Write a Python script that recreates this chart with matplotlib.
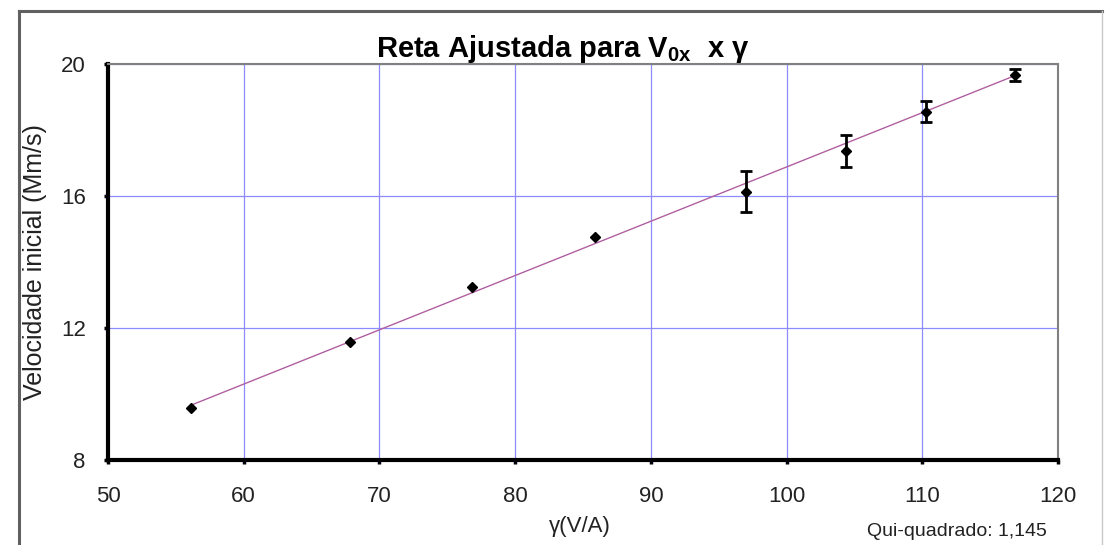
import matplotlib
matplotlib.use("Agg")
import matplotlib.pyplot as plt
from matplotlib.lines import Line2D

plt.rcParams["font.family"] = ["Liberation Sans", "DejaVu Sans"]

# measured points
gamma = [56.1, 67.8, 76.8, 85.9, 97.0, 104.4, 110.3, 116.8]
v0x = [9.57, 11.57, 13.25, 14.75, 16.13, 17.37, 18.55, 19.67]
v0x_err = [0, 0, 0, 0, 0.62, 0.48, 0.32, 0.18]

# fitted line
fit_slope = 0.1645
fit_intercept = 0.43
fit_range = [56.1, 116.8]

x_ticks = [50, 60, 70, 80, 90, 100, 110, 120]
y_ticks = [8, 12, 16, 20]

fig = plt.figure(figsize=(11.06, 5.45), dpi=100)
ax = fig.add_axes([108 / 1106, 1 - 460 / 545, 950 / 1106, 396 / 545])

# outer chart frame
fig.add_artist(Line2D([19 / 1106, 19 / 1106], [-0.02, 1 - 11 / 545], transform=fig.transFigure,
                      color="#606060", lw=2.2))
fig.add_artist(Line2D([19 / 1106, 1102 / 1106], [1 - 11 / 545, 1 - 11 / 545], transform=fig.transFigure,
                      color="#606060", lw=2.2))
fig.add_artist(Line2D([1102 / 1106, 1102 / 1106], [-0.02, 1 - 11 / 545], transform=fig.transFigure,
                      color="#c8c8c8", lw=1))

fit_y = [fit_slope * x + fit_intercept for x in fit_range]
ax.plot(fit_range, fit_y, color="#b060a0", lw=1, zorder=2)

ex = [x for x, e in zip(gamma, v0x_err) if e > 0]
ey = [y for y, e in zip(v0x, v0x_err) if e > 0]
ee = [e for e in v0x_err if e > 0]
ax.errorbar(ex, ey, yerr=ee, fmt="none", ecolor="black", elinewidth=2,
            capsize=4, capthick=2, zorder=3)
ax.plot(gamma, v0x, "D", color="black", markersize=5.5, zorder=4)

ax.set_xlim(50, 120)
ax.set_ylim(8, 20)
ax.set_xticks(x_ticks)
ax.set_yticks(y_ticks)
ax.grid(True, color="#8c8cff", lw=0.9)
ax.set_axisbelow(True)

for side in ["left", "bottom"]:
    ax.spines[side].set_linewidth(3)
    ax.spines[side].set_color("black")
for side in ["top", "right"]:
    ax.spines[side].set_linewidth(1.5)
    ax.spines[side].set_color("#808080")

ax.tick_params(axis="both", direction="out", length=3, width=2.5, labelsize=16, colors="black")
ax.tick_params(axis="y", pad=13)
ax.tick_params(axis="x", pad=16)
for lbl in ax.get_xticklabels() + ax.get_yticklabels():
    lbl.set_color("#222222")

ax.set_ylabel("Velocidade inicial (Mm/s)", fontsize=18, color="#222222")
ax.yaxis.set_label_coords(-0.064, 0.5)
ax.set_xlabel("γ(V/A)", fontsize=16, color="#222222")
ax.xaxis.set_label_coords(0.497, -0.142)

fig.text(563 / 1106, 1 - 57 / 545, r"Reta Ajustada para V$_{\mathregular{0x}}$  x γ",
         ha="center", va="baseline", fontsize=21, fontweight="bold")
fig.text(1047 / 1106, 1 - 531 / 545, "Qui-quadrado: 1,145", ha="right", va="center",
         fontsize=14, color="#222222")

plt.savefig("out.png", dpi=100)
